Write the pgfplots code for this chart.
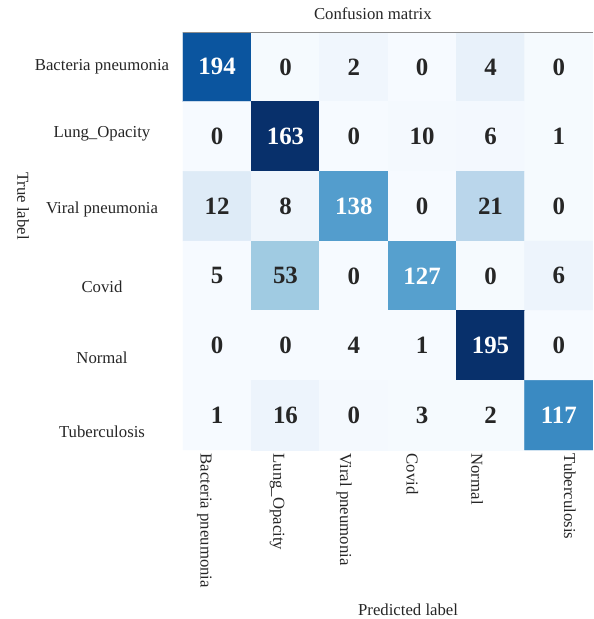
\documentclass[border=0pt]{standalone}
\usepackage{pgfplots}
\usepackage{pgfplotstable}
\pgfplotsset{compat=1.18}
\usepackage{fontspec}
\setmainfont{Liberation Serif}

% x y = column, row; s = shade; v = printed count
\pgfplotstableread{
x y s v
0 0 168 194
1 0 2 0
2 0 7 2
3 0 1 0
4 0 15 4
5 0 2 0
0 1 1 0
1 1 195 163
2 1 1 0
3 1 3 10
4 1 4 6
5 1 2 1
0 2 24 12
1 2 9 8
2 2 112 138
3 2 1 0
4 2 56 21
5 2 2 0
0 3 1 5
1 3 72 53
2 3 1 0
3 3 110 127
4 3 2 0
5 3 10 6
0 4 1 0
1 4 1 0
2 4 1 4
3 4 1 1
4 4 195 195
5 4 1 0
0 5 1 1
1 5 10 16
2 5 3 0
3 5 2 3
4 5 2 2
5 5 128 117
}\cmdata

\begin{document}
\begin{tikzpicture}
\useasboundingbox (-183bp,-169bp) rectangle (411bp,450bp);
\begin{axis}[
    at={(0,0)}, anchor=south west,
    scale only axis,
    width=410bp, height=418bp,
    xmin=-0.5, xmax=5.5, ymin=-0.5, ymax=5.5,
    enlargelimits=false,
    y dir=reverse,
    axis line style={draw=none},
    tick style={draw=none},
    unbounded coords=discard,
    /pgf/number format/assume math mode=true,
    colormap={blues}{rgb255=(247,251,255) rgb255=(222,235,247) rgb255=(198,219,239)
        rgb255=(158,202,225) rgb255=(107,174,214) rgb255=(66,146,198)
        rgb255=(33,113,181) rgb255=(8,81,156) rgb255=(8,48,107)},
    point meta min=0, point meta max=195,
    xtick={0,...,5}, ytick={0,...,5},
    xticklabels={
        \raisebox{-16.6bp}{Bacteria pneumonia},
        \raisebox{-12.1bp}{Lung\_Opacity},
        \raisebox{-13.6bp}{Viral pneumonia},
        \raisebox{-15.6bp}{Covid},
        \raisebox{-19.1bp}{Normal},
        \raisebox{5.4bp}{Tuberculosis}},
    yticklabels={
        \raisebox{-3.8bp}{Bacteria pneumonia},
        \raisebox{-1.1bp}{Lung\_Opacity},
        \raisebox{-7.4bp}{Viral pneumonia},
        \raisebox{-16.8bp}{Covid},
        \raisebox{-18.1bp}{Normal},
        \raisebox{-22.4bp}{Tuberculosis}},
    ticklabel style={font=\fontsize{16.8}{20}\selectfont, text=black!85},
    xticklabel style={rotate=-90, anchor=base west},
    yticklabel style={anchor=base, xshift=-81bp},
    title={Confusion matrix},
    title style={at={(axis description cs:0.463,1.029)}, anchor=center,
        font=\fontsize{16.8}{20}\selectfont, text=black!85},
    xlabel={Predicted label},
    xlabel style={at={(axis description cs:0.549,-0.383)}, anchor=center,
        font=\fontsize{16.8}{20}\selectfont, text=black!85},
    ylabel={True label},
    ylabel style={at={(axis description cs:-0.39,0.584)}, anchor=center, rotate=180,
        font=\fontsize{16.8}{20}\selectfont, text=black!85},
    numbers/.style={only marks, mark=none, point meta=explicit,
        nodes near coords,
        every node near coord/.append style={anchor=center,
            font=\fontsize{25}{30}\selectfont\bfseries, text=#1}},
]
\addplot[matrix plot*, mesh/cols=6, point meta=explicit, draw=none]
    table[x=x, y=y, meta=s] {\cmdata};
% dark counts on light cells
\addplot[numbers=black!85]
    table[x=x, y expr={\thisrow{v}>100 ? nan : \thisrow{y}}, meta=v] {\cmdata};
% white counts on dark cells
\addplot[numbers=white]
    table[x=x, y expr={\thisrow{v}>100 ? \thisrow{y} : nan}, meta=v] {\cmdata};
\draw[black!45, line width=0.6pt] (axis description cs:0,1) -- (axis description cs:1,1);
\draw[black!15, line width=0.6pt] (axis description cs:0.432,-0.167) -- (axis description cs:0.541,-0.167);
\end{axis}
\end{tikzpicture}
\end{document}
